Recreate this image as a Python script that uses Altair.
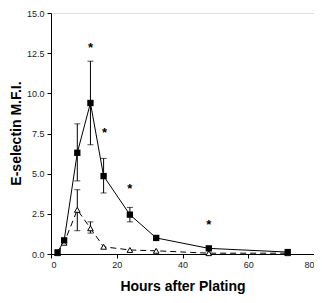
import altair as alt
import pandas as pd

hours = [2, 4, 8, 12, 16, 24, 32, 48, 72]
solid_mfi = [0.1, 0.85, 6.3, 9.4, 4.85, 2.45, 1.0, 0.35, 0.12]
dashed_mfi = [0.05, 0.7, 2.75, 1.6, 0.45, 0.25, 0.2, 0.05, 0.05]

solid_err_x = [8, 12, 16, 24]
solid_err_lo = [4.55, 6.8, 3.8, 2.0]
solid_err_hi = [8.1, 12.0, 5.95, 2.9]

dashed_err_x = [8, 12]
dashed_err_lo = [1.45, 1.3]
dashed_err_hi = [4.0, 2.0]

star_x = [12, 16.3, 24, 48]
star_y = [13.1, 7.75, 4.3, 2.05]

solid = pd.DataFrame({"h": hours, "v": solid_mfi})
dashed = pd.DataFrame({"h": hours, "v": dashed_mfi})
serr = pd.DataFrame({"h": solid_err_x, "lo": solid_err_lo, "hi": solid_err_hi})
derr = pd.DataFrame({"h": dashed_err_x, "lo": dashed_err_lo, "hi": dashed_err_hi})
stars = pd.DataFrame({"h": star_x, "v": star_y})

xs = alt.Scale(domain=[0, 80], nice=False)
ys = alt.Scale(domain=[0, 15], nice=False)

xax = alt.Axis(
    values=[0, 10, 20, 30, 40, 50, 60, 70, 80],
    labelExpr="datum.value % 20 == 0 ? datum.label : ''",
    title="Hours after Plating",
    titleFontSize=14, titleFontWeight="bold", titleFont="Liberation Sans",
    titleY=25, titleColor="black",
    labelFontSize=9, labelFont="Liberation Sans", labelColor="#222",
    tickSize=4, labelPadding=2, grid=False,
    domainColor="black", tickColor="black",
)
yax = alt.Axis(
    values=[0, 2.5, 5, 7.5, 10, 12.5, 15], format=".1f",
    title="E-selectin M.F.I.",
    titleFontSize=14, titleFontWeight="bold", titleFont="Liberation Sans",
    titleX=-28, titleY=120, titleColor="black",
    labelFontSize=9, labelFont="Liberation Sans", labelColor="#222",
    tickSize=4, labelPadding=3, grid=False,
    domainColor="black", tickColor="black",
)

x = alt.X("h:Q", scale=xs, axis=xax)
y = alt.Y("v:Q", scale=ys, axis=yax)

solid_line = alt.Chart(solid).mark_line(color="black", strokeWidth=1).encode(x=x, y=y)
dashed_line = alt.Chart(dashed).mark_line(color="black", strokeWidth=1, strokeDash=[6, 4]).encode(x=x, y=y)

serr_rule = alt.Chart(serr).mark_rule(color="black", strokeWidth=1).encode(
    x=alt.X("h:Q", scale=xs), y=alt.Y("lo:Q", scale=ys), y2="hi:Q")
serr_lo = alt.Chart(serr).mark_tick(color="black", orient="horizontal", size=6, thickness=1).encode(
    x=alt.X("h:Q", scale=xs), y=alt.Y("lo:Q", scale=ys))
serr_hi = alt.Chart(serr).mark_tick(color="black", orient="horizontal", size=6, thickness=1).encode(
    x=alt.X("h:Q", scale=xs), y=alt.Y("hi:Q", scale=ys))

derr_rule = alt.Chart(derr).mark_rule(color="black", strokeWidth=1).encode(
    x=alt.X("h:Q", scale=xs), y=alt.Y("lo:Q", scale=ys), y2="hi:Q")
derr_lo = alt.Chart(derr).mark_tick(color="black", orient="horizontal", size=6, thickness=1).encode(
    x=alt.X("h:Q", scale=xs), y=alt.Y("lo:Q", scale=ys))
derr_hi = alt.Chart(derr).mark_tick(color="black", orient="horizontal", size=6, thickness=1).encode(
    x=alt.X("h:Q", scale=xs), y=alt.Y("hi:Q", scale=ys))

squares = alt.Chart(solid).mark_point(shape="square", filled=True, color="black", size=40, opacity=1).encode(x=x, y=y)
triangles = alt.Chart(dashed).mark_point(shape="triangle-up", filled=True, fill="white", stroke="black",
                                         strokeWidth=1, size=32, opacity=1).encode(x=x, y=y)

star_text = alt.Chart(stars).mark_text(text="*", fontSize=13, fontWeight="bold", font="Liberation Sans",
                                        color="black", baseline="alphabetic", dy=8).encode(x=x, y=y)

chart = alt.layer(
    solid_line, dashed_line,
    serr_rule, serr_lo, serr_hi, derr_rule, derr_lo, derr_hi,
    triangles, squares, star_text,
).properties(
    width=263, height=241,
    autosize=alt.AutoSizeParams(type="none"),
    padding={"left": 43, "top": 5, "right": 0, "bottom": 41},
).configure_view(stroke="black", strokeWidth=1).configure(background="white")

chart.save("out.html", embed_options={"renderer": "svg", "actions": False})
